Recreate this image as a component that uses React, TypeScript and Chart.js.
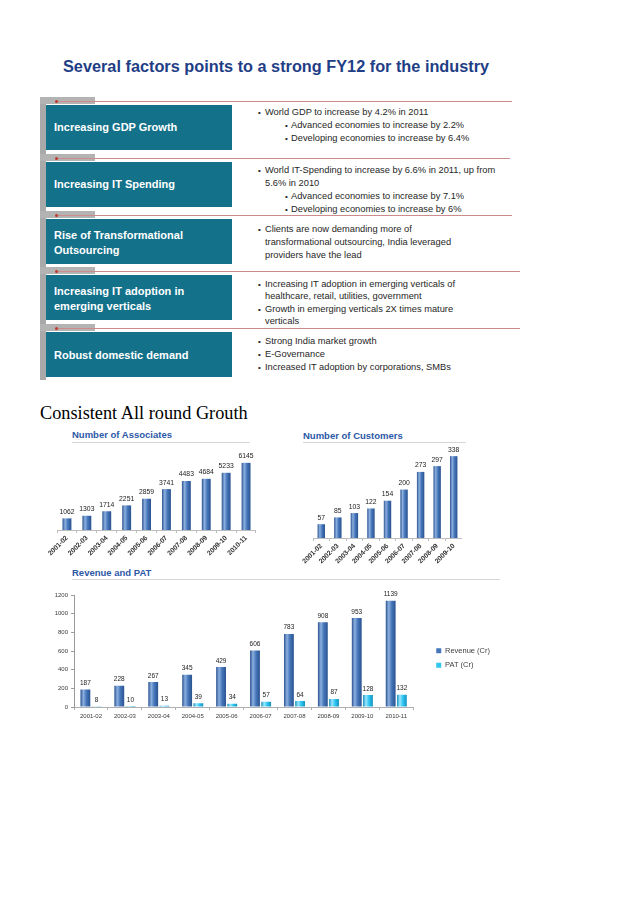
import React, { useEffect, useRef } from "react";
import { Chart, registerables } from "chart.js";

Chart.register(...registerables);
Chart.defaults.font.family = "'Liberation Sans', Arial, sans-serif";

// ---------- data ----------
const associateYears = ["2001-02", "2002-03", "2003-04", "2004-05", "2005-06", "2006-07", "2007-08", "2008-09", "2009-10", "2010-11"];
const associates = [1062, 1303, 1714, 2251, 2859, 3741, 4483, 4684, 5233, 6145];

const customerYears = ["2001-02", "2002-03", "2003-04", "2004-05", "2005-06", "2006-07", "2007-08", "2008-09", "2009-10"];
const customers = [57, 85, 103, 122, 154, 200, 273, 297, 338];

const revenueYears = ["2001-02", "2002-03", "2003-04", "2004-05", "2005-06", "2006-07", "2007-08", "2008-09", "2009-10", "2010-11"];
const revenue = [187, 228, 267, 345, 429, 606, 783, 908, 953, 1139];
const pat = [8, 10, 13, 39, 34, 57, 64, 87, 128, 132];
const seriesNames = ["Revenue (Cr)", "PAT (Cr)"];

const factorLabels = [
  ["Increasing GDP Growth"],
  ["Increasing IT Spending"],
  ["Rise of Transformational", "Outsourcing"],
  ["Increasing IT adoption in", "emerging verticals"],
  ["Robust domestic demand"],
];
// kind: "b" bullet, "c" continuation, "s" sub-bullet
const factorPoints: [string, string][][] = [
  [["b", "World GDP to increase by 4.2% in 2011"], ["s", "Advanced economies to increase by 2.2%"], ["s", "Developing economies to increase by 6.4%"]],
  [["b", "World IT-Spending to increase by 6.6% in 2011, up from"], ["c", "5.6% in 2010"], ["s", "Advanced economies to increase by 7.1%"], ["s", "Developing economies to increase by 6%"]],
  [["b", "Clients are now demanding more of"], ["c", "transformational outsourcing, India leveraged"], ["c", "providers have the lead"]],
  [["b", "Increasing IT adoption in emerging verticals of"], ["c", "healthcare, retail, utilities, government"], ["b", "Growth in emerging verticals 2X times mature"], ["c", "verticals"]],
  [["b", "Strong India market growth"], ["b", "E-Governance"], ["b", "Increased IT adoption by corporations, SMBs"]],
];

// ---------- layout constants ----------
const rowLineY = [101, 158, 215, 271, 328];
const rowLineEnd = [512, 510, 512, 520, 520];
const rowTextY = [112, 170, 229, 284, 341];
const rowTextStep = [13, 13, 13, 12.6, 13];
const labelCenterY = [127, 184, 242.5, 298.5, 355];

const BLUE = "#4677BA";
const BLUE_L = "#8DB0E0";
const BLUE_D = "#2A5290";
const CYAN = "#2FC6F2";
const CYAN_L = "#9BE6FF";
const CYAN_D = "#1592BE";

function cylinder(base: string, light: string, dark: string, nDs: number, catPct: number, barPct: number) {
  return (c: any) => {
    const chart = c.chart;
    const area = chart.chartArea;
    const xs = chart.scales && chart.scales.x;
    if (!area || !xs || c.dataIndex === undefined || c.type !== "data") return base;
    const n = chart.data.labels.length;
    const catW = (area.right - area.left) / n;
    const size = catW * catPct;
    const chunk = size / nDs;
    const center = xs.getPixelForValue(c.dataIndex) - size / 2 + chunk * (c.datasetIndex + 0.5);
    const w = chunk * barPct;
    const g = chart.ctx.createLinearGradient(center - w / 2, 0, center + w / 2, 0);
    g.addColorStop(0, dark);
    g.addColorStop(0.3, light);
    g.addColorStop(0.6, base);
    g.addColorStop(1, dark);
    return g;
  };
}

function valueLabels(font: string, color: string, offset: number) {
  return {
    id: "valueLabels",
    afterDatasetsDraw(chart: any) {
      const ctx = chart.ctx;
      ctx.save();
      ctx.font = font;
      ctx.fillStyle = color;
      ctx.textAlign = "center";
      ctx.textBaseline = "bottom";
      chart.data.datasets.forEach((ds: any, i: number) => {
        const meta = chart.getDatasetMeta(i);
        meta.data.forEach((el: any, j: number) => {
          ctx.fillText(String(ds.data[j]), el.x, el.y - offset);
        });
      });
      ctx.restore();
    },
  };
}

function useChart(build: () => any) {
  const ref = useRef<HTMLCanvasElement | null>(null);
  useEffect(() => {
    if (!ref.current) return;
    const chart = new Chart(ref.current, build());
    return () => chart.destroy();
  }, []);
  return ref;
}

function SmallBarChart(props: { labels: string[]; values: number[]; max: number; catPct: number; barPct: number; left: number; top: number; width: number; height: number }) {
  const { labels, values, max, catPct, barPct } = props;
  const ref = useChart(() => ({
    type: "bar",
    data: {
      labels,
      datasets: [
        {
          data: values,
          backgroundColor: cylinder(BLUE, BLUE_L, BLUE_D, 1, catPct, barPct),
          categoryPercentage: catPct,
          barPercentage: barPct,
        },
      ],
    },
    options: {
      animation: false,
      responsive: true,
      maintainAspectRatio: false,
      layout: { padding: { left: 12, right: 0, top: 0, bottom: 0 } },
      plugins: { legend: { display: false }, tooltip: { enabled: false } },
      scales: {
        x: {
          grid: { display: true, drawOnChartArea: false, tickLength: 3, color: "#BDBDBD" },
          border: { display: true, color: "#BDBDBD" },
          ticks: { minRotation: 45, maxRotation: 45, font: { size: 6.8, weight: "bold" }, color: "#333", padding: 1 },
          afterFit: (s: any) => { s.height = 32; },
        },
        y: { display: false, min: 0, max },
      },
    },
    plugins: [valueLabels("6.8px 'Liberation Sans', Arial, sans-serif", "#222", 3)],
  }));
  return (
    <div style={{ position: "absolute", left: props.left, top: props.top, width: props.width, height: props.height }}>
      <canvas ref={ref} />
    </div>
  );
}

function RevenueChart() {
  const catPct = 0.66;
  const barPct = 0.88;
  const ref = useChart(() => ({
    type: "bar",
    data: {
      labels: revenueYears,
      datasets: [
        { label: seriesNames[0], data: revenue, backgroundColor: cylinder(BLUE, BLUE_L, BLUE_D, 2, catPct, barPct), categoryPercentage: catPct, barPercentage: barPct },
        { label: seriesNames[1], data: pat, backgroundColor: cylinder(CYAN, CYAN_L, CYAN_D, 2, catPct, barPct), categoryPercentage: catPct, barPercentage: barPct },
      ],
    },
    options: {
      animation: false,
      responsive: true,
      maintainAspectRatio: false,
      layout: { padding: { left: 0, right: 0, top: 10, bottom: 0 } },
      plugins: {
        tooltip: { enabled: false },
        legend: {
          position: "right",
          labels: {
            boxWidth: 5,
            boxHeight: 5,
            padding: 7,
            color: "#404040",
            font: { size: 7.5 },
            generateLabels: (chart: any) =>
              chart.data.datasets.map((ds: any, i: number) => ({
                text: ds.label,
                fillStyle: i === 0 ? BLUE : CYAN,
                strokeStyle: i === 0 ? BLUE : CYAN,
                lineWidth: 0,
                hidden: false,
                datasetIndex: i,
                fontColor: "#404040",
              })),
          },
        },
      },
      scales: {
        x: {
          grid: { display: true, drawOnChartArea: false, tickLength: 3, color: "#B0B0B0" },
          border: { display: true, color: "#B0B0B0" },
          ticks: { font: { size: 6 }, color: "#3a3a3a", padding: 3, maxRotation: 0 },
          afterFit: (s: any) => { s.height = 14; },
        },
        y: {
          min: 0,
          max: 1200,
          grid: { display: true, drawOnChartArea: false, tickLength: 3, color: "#9a9a9a" },
          border: { display: true, color: "#9a9a9a" },
          ticks: { stepSize: 200, font: { size: 6 }, color: "#3a3a3a", padding: 3, callback: (v: any) => String(v) },
          afterFit: (s: any) => { s.width = 26; },
        },
        gap: {
          type: "linear",
          position: "right",
          display: true,
          grid: { display: false },
          border: { display: false },
          ticks: { display: false },
          afterFit: (s: any) => { s.width = 16; },
        },
      },
    },
    plugins: [valueLabels("6.5px 'Liberation Sans', Arial, sans-serif", "#222", 3)],
  }));
  return (
    <div style={{ position: "absolute", left: 48, top: 585, width: 452, height: 136 }}>
      <canvas ref={ref} />
    </div>
  );
}

const abs = (s: React.CSSProperties): React.CSSProperties => ({ position: "absolute", ...s });

function Factors() {
  const items: React.ReactNode[] = [];
  items.push(<div key="strip" style={abs({ left: 40, top: 97, width: 6, height: 283, background: "#A9A9A9" })} />);
  rowLineY.forEach((y, i) => {
    items.push(<div key={"tab" + i} style={abs({ left: 40, top: y - 4, width: 55, height: 7, background: "#B3B3B3" })} />);
    items.push(<div key={"line" + i} style={abs({ left: 55, top: y, width: rowLineEnd[i] - 55, height: 1, background: "#CC8C8C" })} />);
    items.push(<div key={"dot" + i} style={abs({ left: 55, top: y - 1, width: 3, height: 3, borderRadius: 2, background: "#C0392B" })} />);
    items.push(<div key={"box" + i} style={abs({ left: 46, top: y + 4, width: 186, height: 45, background: "#14718A" })} />);
    const lines = factorLabels[i];
    const lh = 14.5;
    lines.forEach((t, k) => {
      const cy = labelCenterY[i] - ((lines.length - 1) * lh) / 2 + k * lh;
      items.push(
        <div key={"lab" + i + "-" + k} style={abs({ left: 54, top: cy - 7, height: 14, lineHeight: "14px", fontSize: 11, fontWeight: "bold", color: "#FFFFFF", whiteSpace: "nowrap" })}>
          {t}
        </div>
      );
    });
    factorPoints[i].forEach(([kind, t], k) => {
      const cy = rowTextY[i] + k * rowTextStep[i];
      const bx = kind === "s" ? 285 : 258;
      const tx = kind === "s" ? 291 : 265;
      if (kind !== "c") {
        items.push(
          <div key={"bul" + i + "-" + k} style={abs({ left: bx, top: cy - 6.5, height: 13, lineHeight: "13px", fontSize: 8, color: "#222" })}>
            •
          </div>
        );
      }
      items.push(
        <div key={"pt" + i + "-" + k} style={abs({ left: tx, top: cy - 6.5, height: 13, lineHeight: "13px", fontSize: 9.3, color: "#262626", whiteSpace: "nowrap" })}>
          {t}
        </div>
      );
    });
  });
  return <>{items}</>;
}

function ChartTitle(props: { text: string; left: number; cy: number; lineY: number; lineRight: number }) {
  return (
    <>
      <div style={abs({ left: props.left, top: props.cy - 6, height: 12, lineHeight: "12px", fontSize: 9.5, fontWeight: "bold", color: "#2C58A6", whiteSpace: "nowrap" })}>{props.text}</div>
      <div style={abs({ left: props.left, top: props.lineY, width: props.lineRight - props.left, height: 1, background: "#D6D6D6" })} />
    </>
  );
}

export default function App() {
  return (
    <div style={abs({ left: 0, top: 0, width: 638, height: 903, background: "#FFFFFF", fontFamily: "'Liberation Sans', Arial, sans-serif", overflow: "hidden" })}>
      <div style={abs({ left: 63, top: 56, height: 20, lineHeight: "20px", fontSize: 16.3, fontWeight: "bold", color: "#1F3E86", whiteSpace: "nowrap" })}>
        Several factors points to a strong FY12 for the industry
      </div>
      <Factors />
      <div style={abs({ left: 40, top: 402, height: 22, lineHeight: "22px", fontSize: 18.3, fontFamily: "'Liberation Serif', 'Times New Roman', serif", color: "#000", whiteSpace: "nowrap" })}>
        Consistent All round Grouth
      </div>
      <ChartTitle text="Number of Associates" left={72} cy={435} lineY={442} lineRight={250} />
      <ChartTitle text="Number of Customers" left={303} cy={436} lineY={442} lineRight={466} />
      <ChartTitle text="Revenue and PAT" left={72} cy={573} lineY={579} lineRight={500} />
      <SmallBarChart labels={associateYears} values={associates} max={7500} catPct={0.8} barPct={0.56} left={45} top={448} width={211} height={114} />
      <SmallBarChart labels={customerYears} values={customers} max={380} catPct={0.8} barPct={0.56} left={301} top={446} width={161} height={124} />
      <RevenueChart />
    </div>
  );
}
